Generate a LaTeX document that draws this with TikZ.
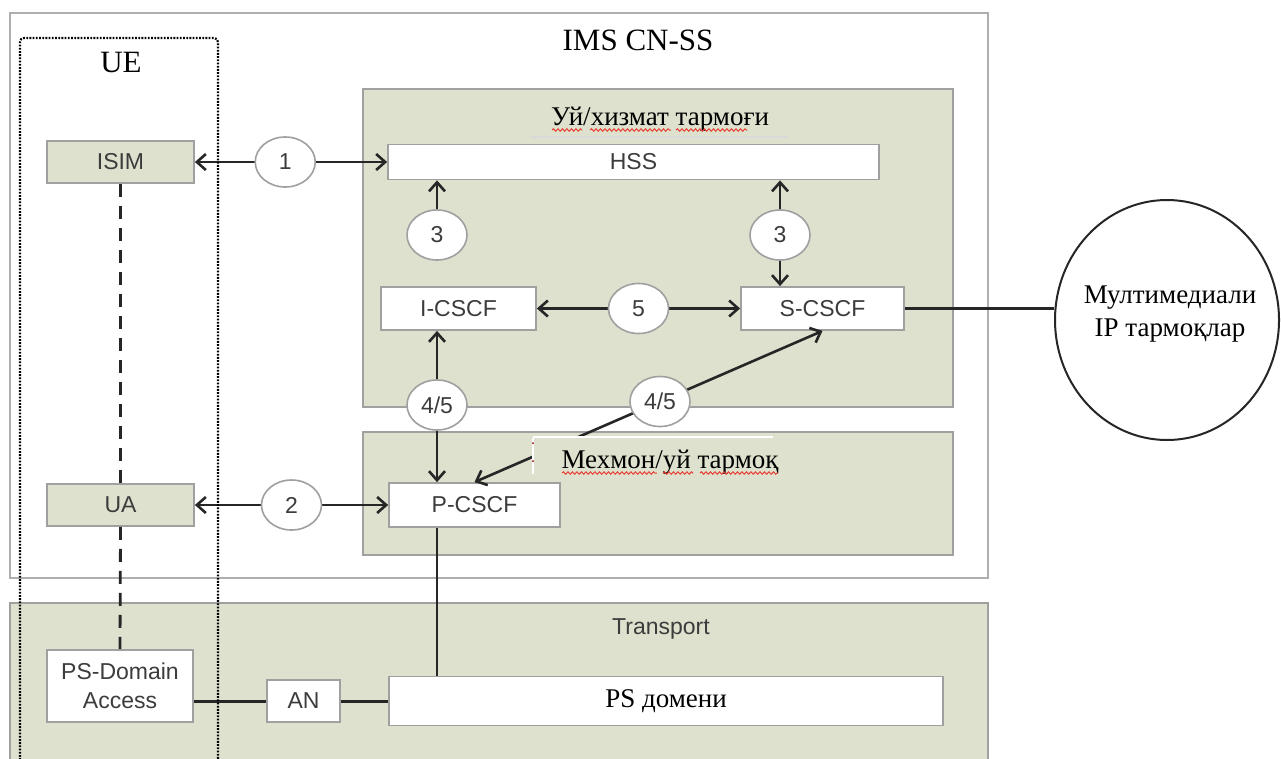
\documentclass[tikz,border=0pt]{standalone}
\usepackage{fontspec}
\setmainfont{Liberation Serif}
\newfontfamily\labelsans{Liberation Sans}
\usetikzlibrary{arrows.meta,shapes.geometric,decorations.pathmorphing,calc}

\definecolor{panel}{RGB}{221,225,205}
\definecolor{rim}{RGB}{160,160,160}
\definecolor{ink}{RGB}{38,38,38}
\definecolor{labelgray}{RGB}{60,60,60}
\definecolor{spell}{RGB}{235,60,50}

\begin{document}
\begin{tikzpicture}[x=1pt,y=-1pt,
  >={Straight Barb[length=9pt,width=16pt]},
  panelbox/.style={draw=rim, line width=1.8pt, fill=panel},
  unit/.style={draw=rim, line width=1.8pt, fill=white, inner sep=0pt,
    font=\labelsans\fontsize{23}{28}\selectfont, text=labelgray, align=center},
  greenunit/.style={unit, fill=panel},
  oval/.style={ellipse, draw=rim, line width=1.6pt, fill=white, inner sep=0pt,
    minimum width=60pt, minimum height=50pt,
    font=\labelsans\fontsize{23}{27}\selectfont, text=labelgray},
  link/.style={draw=ink, line width=2.6pt},
  serifbig/.style={font=\fontsize{31}{35}\selectfont},
  seriflabel/.style={font=\fontsize{27}{31}\selectfont},
  uedot/.style={draw=black, line width=2.2pt, dash pattern=on 1.8pt off 1.4pt},
  uedash/.style={draw=ink, line width=2.8pt, dash pattern=on 13pt off 9pt},
  wavy/.style={draw=spell, line width=1pt, decorate,
    decoration={snake, segment length=4.5pt, amplitude=1.2pt}}]

\useasboundingbox (0,0) rectangle (1281,758);
\fill[white] (0,0) rectangle (1281,758);

% IMS core network subsystem frame
\draw[draw=rim!85, line width=1.8pt, fill=white] (10,13) rectangle (988,578);
\node[serifbig, anchor=base] (imstitle) at (638,50) {IMS CN-SS};

% transport layer (open at the bottom)
\fill[panel] (10,603) rectangle (988,760);
\draw[draw=rim, line width=1.8pt] (10,760) -- (10,603) -- (988,603) -- (988,760);
\node[font=\labelsans\fontsize{23}{27}\selectfont, text=labelgray] (transport) at (661,629) {Transport};

% home and visited network areas
\draw[panelbox] (363,89) rectangle (953,407);
\draw[panelbox] (363,432) rectangle (953,555);

\node[seriflabel, anchor=base] (hometitle) at (660,125) {Уй/хизмат тармоғи};
\draw[draw=black!15, line width=1.8pt] (530,137) -- (788,137);
\draw[wavy] (552,130) -- (582,130);
\draw[wavy] (590,130) -- (671,130);
\draw[wavy] (676,130) -- (747,130);

% functional entities
\node[greenunit, minimum width=147pt, minimum height=42pt] (isim) at (120.5,162) {ISIM};
\node[greenunit, minimum width=147pt, minimum height=42pt] (ua) at (120.5,505) {UA};
\node[unit, minimum width=491pt, minimum height=35pt] (hss) at (633.5,162) {HSS};
\node[unit, minimum width=155pt, minimum height=43pt] (icscf) at (458.5,308.5) {I-CSCF};
\node[unit, minimum width=163pt, minimum height=43pt] (scscf) at (822.5,308.5) {S-CSCF};
\node[unit, minimum width=171pt, minimum height=44pt] (pcscf) at (474.5,505) {P-CSCF};
\node[unit, minimum width=146pt, minimum height=72pt, font=\labelsans\fontsize{23}{29}\selectfont] (psda) at (120,686) {PS-Domain\\Access};
\node[unit, minimum width=73pt, minimum height=42pt] (an) at (303.5,701) {AN};
\node[unit, minimum width=554pt, minimum height=49pt, seriflabel, text=black] (psdom) at (666,701) {PS домени};

% external multimedia IP networks
\node[ellipse, draw=ink, line width=2pt, fill=white, minimum width=224pt, minimum height=240pt] (mm) at (1167,320) {};
\node[font=\fontsize{27}{33}\selectfont, align=center] (mmtext) at (1170,314) {Мултимедиали\\IP тармоқлар};

% reference points of the ovals
\coordinate (c3a) at (437,235);
\coordinate (c3b) at (780,235);
\coordinate (c45) at (437,405);

% interfaces
\draw[link, <->] (isim) -- node[oval, pos=0.47] (e1) {1} (hss);
\draw[link, <->] (ua) -- node[oval, pos=0.5] (e2) {2} (pcscf);
\draw[link, <->] (icscf) -- node[oval, pos=0.5] (e5) {5} (scscf);
\draw[link, ->] (c3a) -- (c3a |- hss.south);
\draw[link, <->] (c3b |- hss.south) -- (c3b |- scscf.north);
\draw[link, <->] (c45 |- icscf.south) -- (c45 |- pcscf.north);
\draw[link, <->] (pcscf.north) -- node[oval, pos=0.533] (e45b) {4/5} (scscf.south);
\node[oval] (e3a) at (c3a) {3};
\node[oval] (e3b) at (c3b) {3};
\node[oval] (e45a) at (c45) {4/5};

\draw[draw=ink, line width=2.4pt] (scscf.east) -- (scscf.east -| mm.west);
\draw[draw=ink, line width=2.4pt] (e45a |- pcscf.south) -- (e45a |- psdom.north);
\draw[draw=ink, line width=3pt] (an.west -| psda.east) -- (an.west);
\draw[draw=ink, line width=3pt] (an.east) -- (psdom.west);

% visited network caption in its text frame
\fill[panel] (533,437) rectangle (773,473);
\draw[draw=white, line width=1.8pt] (533,437) -- (773,437);
\draw[draw=white, line width=1.6pt] (533,438) -- (533,474);
\fill[red!60!black] (533,443) circle (1pt) (533,461) circle (1pt);
\node[seriflabel, anchor=base] (visittitle) at (670,468) {Мехмон/уй тармоқ};
\draw[wavy] (562,473) -- (657,473);
\draw[wavy] (663,473) -- (693,473);
\draw[wavy] (700,473) -- (778,473);

% user equipment
\draw[uedash] (isim.south) -- (ua.north);
\draw[uedash] (ua.south) -- (psda.north);
\draw[uedot, rounded corners=4pt] (20,760) -- (20,38) -- (218,38) -- (218,760);
\node[font=\fontsize{31}{35}\selectfont, anchor=base] (uetitle) at (121,72) {UE};

\end{tikzpicture}
\end{document}
